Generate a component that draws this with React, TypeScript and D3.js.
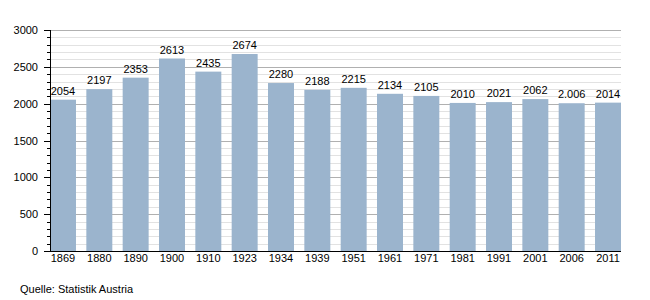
import React from "react";
import * as d3 from "d3";

const years = ["1869","1880","1890","1900","1910","1923","1934","1939","1951","1961","1971","1981","1991","2001","2006","2011"];
const population = [2054,2197,2353,2613,2435,2674,2280,2188,2215,2134,2105,2010,2021,2062,2006,2014];
const valueLabels = ["2054","2197","2353","2613","2435","2674","2280","2188","2215","2134","2105","2010","2021","2062","2.006","2014"];
const majorTicks = [0,500,1000,1500,2000,2500,3000];
const minorTicks = d3.range(0, 3001, 100);
const source = "Quelle: Statistik Austria";

export default function App() {
  const W = 650, H = 300;
  const left = 50, right = 621, top = 30, bottom = 251;
  const x = d3.scaleBand<string>().domain(years).range([left, right]).paddingInner(0.285).paddingOuter(0);
  const y = d3.scaleLinear().domain([0, 3000]).range([bottom, top]);
  const font = "'Liberation Sans', Arial, sans-serif";
  return (
    <svg width={W} height={H} style={{ position: "absolute", left: 0, top: 0 }}>
      <rect width={W} height={H} fill="#fff" />
      {minorTicks.filter(t => t % 500 !== 0).map(t => (
        <line key={"mg" + t} x1={left} x2={right} y1={Math.round(y(t)) + 0.5} y2={Math.round(y(t)) + 0.5} stroke="#e2e2e2" strokeWidth={1} />
      ))}
      {majorTicks.filter(t => t > 0).map(t => (
        <line key={"Mg" + t} x1={left} x2={right} y1={Math.round(y(t)) + 0.5} y2={Math.round(y(t)) + 0.5} stroke="#b0b0b0" strokeWidth={1} />
      ))}
      {population.map((v, i) => (
        <rect key={"b" + i} x={x(years[i])} y={y(v)} width={x.bandwidth()} height={bottom - y(v)} fill="#9bb4cd" />
      ))}
      {population.map((v, i) => (
        <text key={"v" + i} x={(x(years[i]) as number) + x.bandwidth() / 2} y={y(v) - 5} textAnchor="middle" fontFamily={font} fontSize={11} fill="#000">{valueLabels[i]}</text>
      ))}
      {/* axes */}
      <line x1={left + 0.5} x2={left + 0.5} y1={top} y2={bottom + 1} stroke="#000" strokeWidth={1} />
      <line x1={left} x2={right} y1={bottom + 0.5} y2={bottom + 0.5} stroke="#000" strokeWidth={1} />
      {minorTicks.map(t => (
        <line key={"t" + t} x1={t % 500 === 0 ? left - 6 : left - 3} x2={left} y1={Math.round(y(t)) + 0.5} y2={Math.round(y(t)) + 0.5} stroke="#000" strokeWidth={1} />
      ))}
      {majorTicks.map(t => (
        <text key={"yl" + t} x={38} y={y(t) + 4} textAnchor="end" fontFamily={font} fontSize={11} fill="#000">{t}</text>
      ))}
      {years.map(yr => (
        <text key={"xl" + yr} x={(x(yr) as number) + x.bandwidth() / 2} y={bottom + 11} textAnchor="middle" fontFamily={font} fontSize={11} fill="#000">{yr}</text>
      ))}
      <text x={20} y={293} fontFamily={font} fontSize={11} fill="#000">{source}</text>
    </svg>
  );
}
